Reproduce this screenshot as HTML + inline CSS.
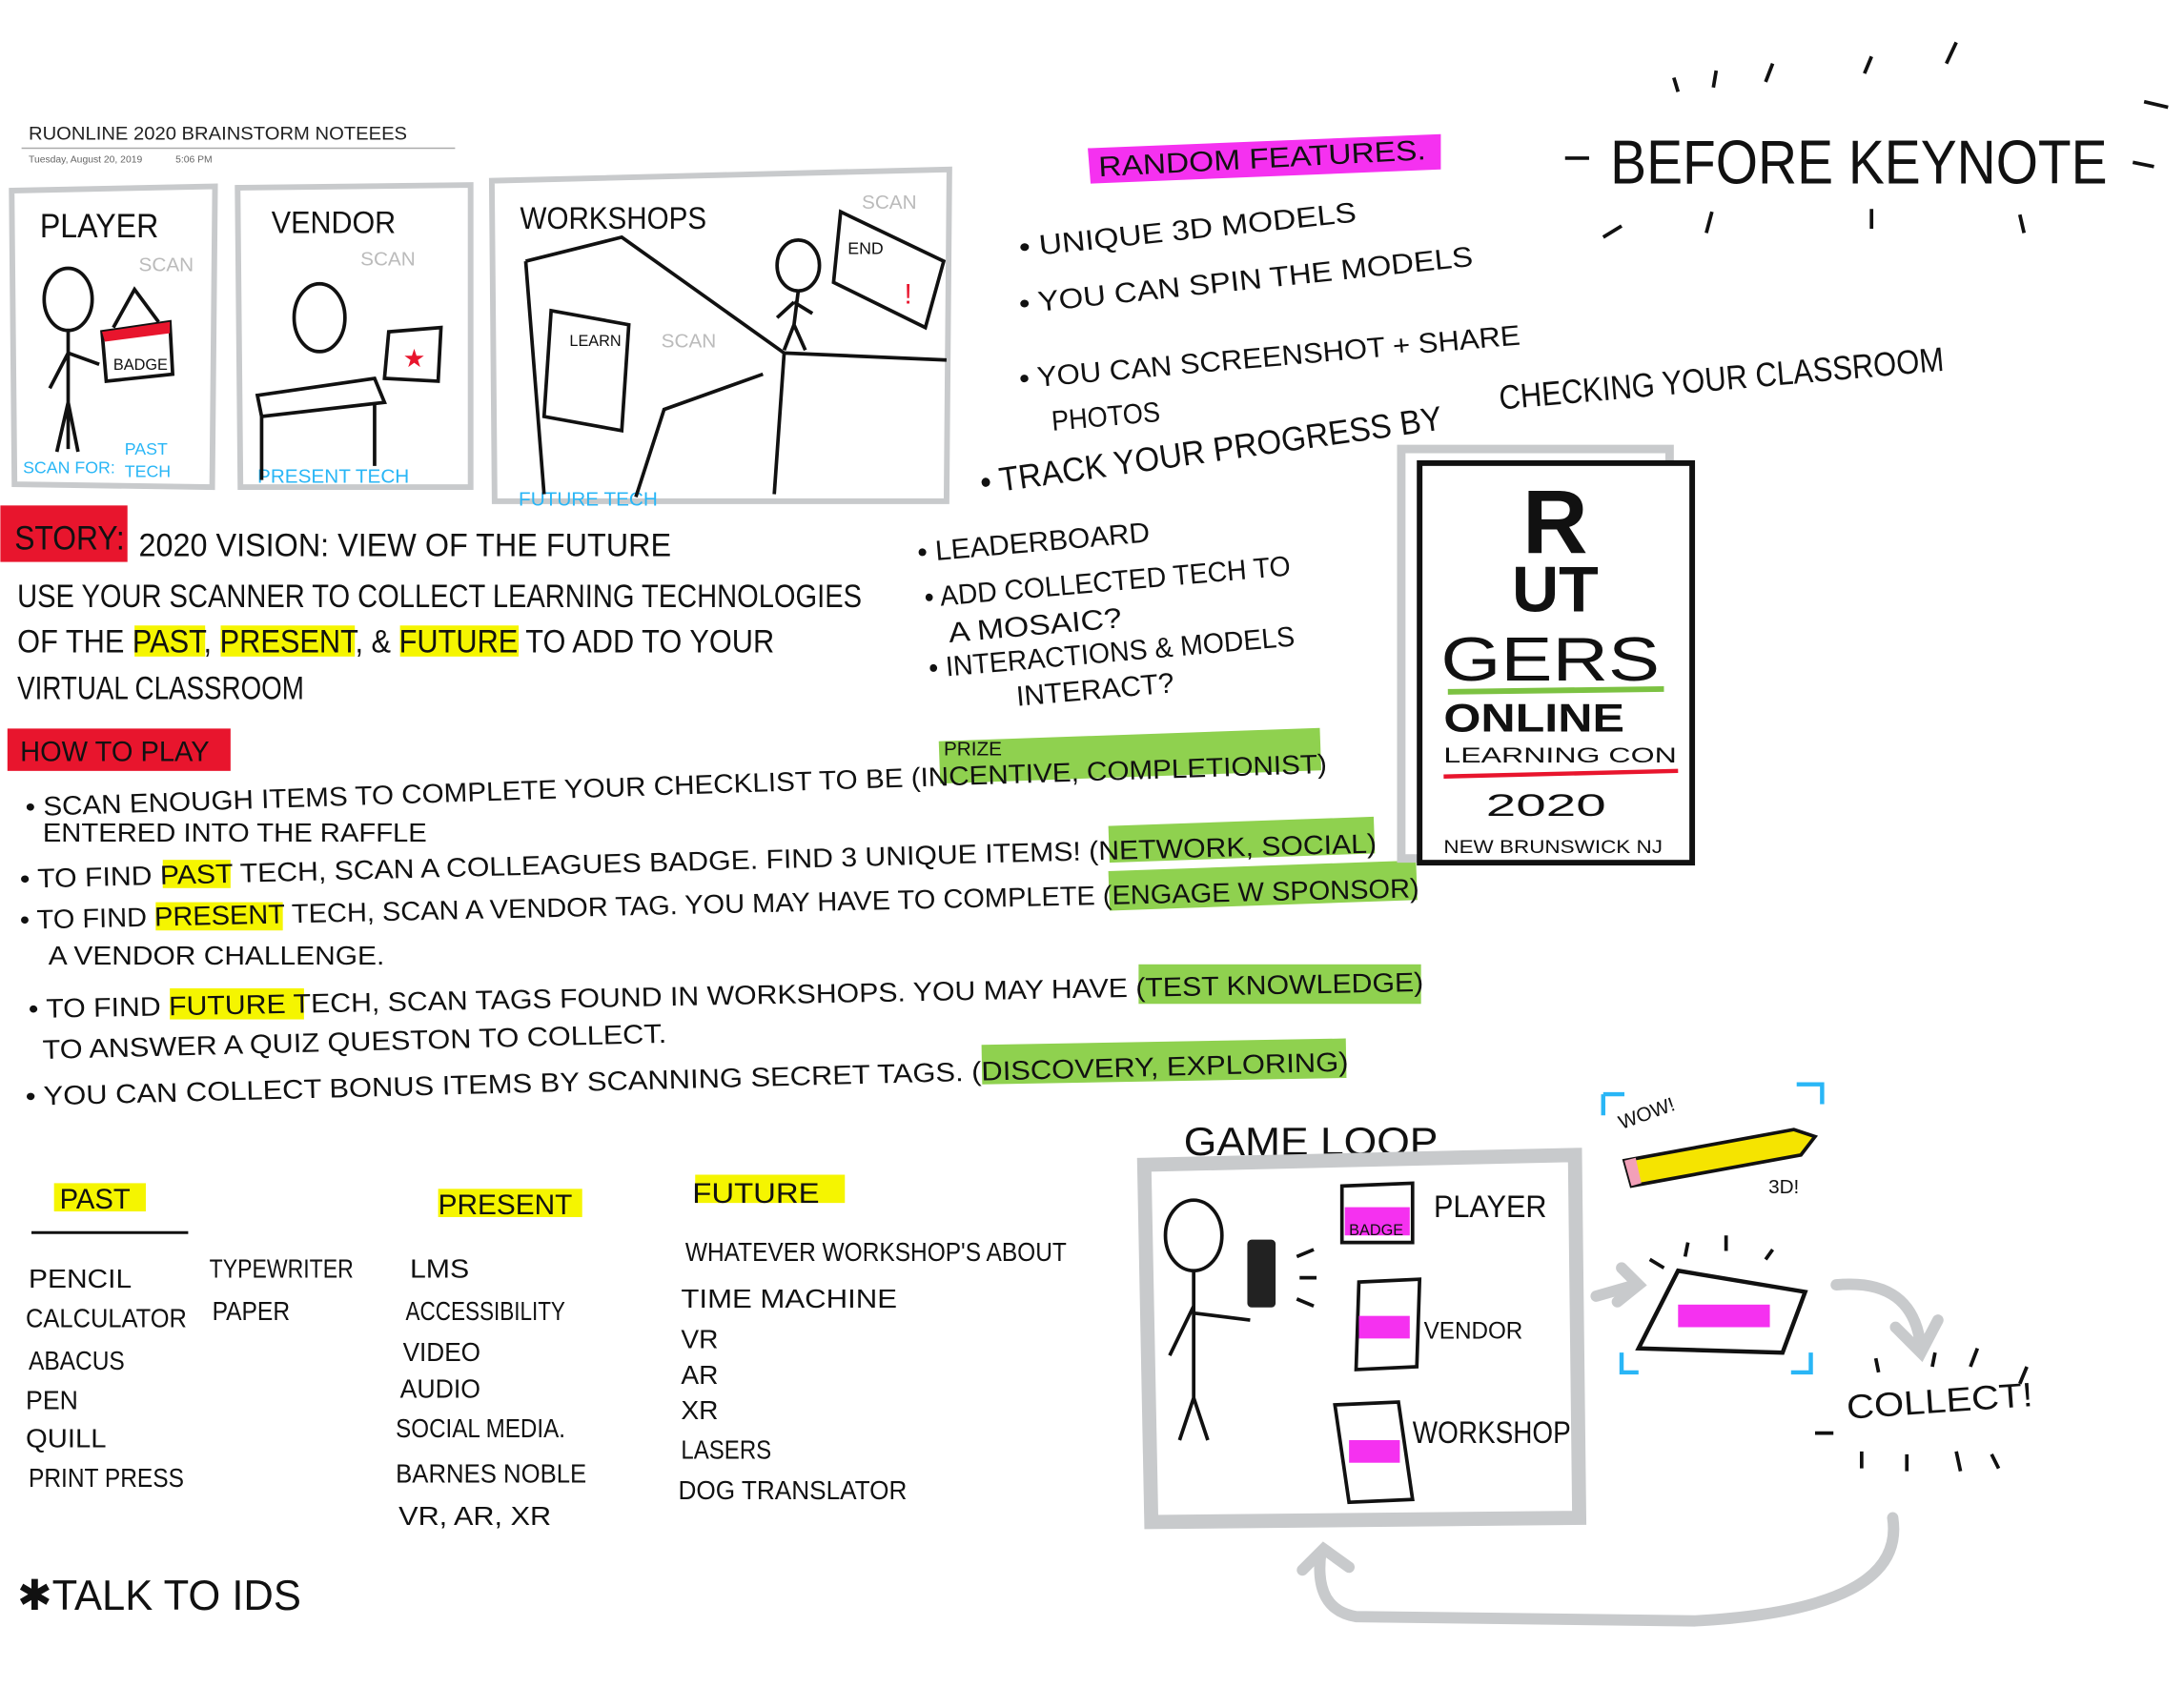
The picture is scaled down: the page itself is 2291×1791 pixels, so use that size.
<!DOCTYPE html>
<html><head><meta charset="utf-8"><style>
html,body{margin:0;padding:0;background:#fff;}
svg{display:block;}
text{font-family:"Liberation Sans",sans-serif;}
.h{fill:#111;}
</style></head><body>
<svg width="2291" height="1791" viewBox="0 0 1546 1209" xmlns="http://www.w3.org/2000/svg">
<rect width="1546" height="1209" fill="#fff"/>
<text x="20" y="99" font-size="13" fill="#222" textLength="268" lengthAdjust="spacingAndGlyphs">RUONLINE 2020 BRAINSTORM NOTEEES</text>
<line x1="15" y1="105" x2="322" y2="105" stroke="#aaa" stroke-width="1"/>
<text x="20" y="115" font-size="7" fill="#666">Tuesday, August 20, 2019</text>
<text x="124" y="115" font-size="7" fill="#666">5:06 PM</text>

<g fill="none" stroke="#c8cacc" stroke-width="4">
<path d="M8 135 L152 132 L150 345 L10 343 Z"/>
<path d="M168 133 L333 131 L333 345 L170 345 Z"/>
<path d="M348 128 L672 120 L670 355 L350 355 Z"/>
</g>
<text x="28" y="168" class="h" font-size="24" textLength="84" lengthAdjust="spacingAndGlyphs">PLAYER</text>
<text x="192" y="165" class="h" font-size="22" textLength="88" lengthAdjust="spacingAndGlyphs">VENDOR</text>
<text x="368" y="162" class="h" font-size="22" textLength="132" lengthAdjust="spacingAndGlyphs">WORKSHOPS</text>
<text x="98" y="192" font-size="14" fill="#bbb">SCAN</text>
<text x="255" y="188" font-size="14" fill="#bbb">SCAN</text>
<text x="610" y="148" font-size="14" fill="#bbb">SCAN</text>
<text x="468" y="246" font-size="14" fill="#bbb">SCAN</text>
<text x="16" y="335" font-size="12" fill="#29b6f6">SCAN FOR:</text>
<text x="88" y="322" font-size="12" fill="#29b6f6">PAST</text>
<text x="88" y="338" font-size="12" fill="#29b6f6">TECH</text>
<text x="182" y="342" font-size="14" fill="#29b6f6">PRESENT TECH</text>
<text x="367" y="358" font-size="14" fill="#29b6f6">FUTURE TECH</text>
<g fill="none" stroke="#111" stroke-width="2.5">
<ellipse cx="48" cy="212" rx="17" ry="22"/><path d="M48 234 L48 318 M48 250 L35 275 M48 250 L70 258 M48 285 L40 320 M48 285 L55 320"/>
<path d="M72 235 L120 228 L122 265 L75 270 Z"/><path d="M80 232 L95 205 L112 228"/>
<ellipse cx="226" cy="225" rx="18" ry="24"/>
<path d="M182 280 L265 268 L272 285 L185 295 Z M185 295 L185 340 M265 285 L265 330"/>
<path d="M275 235 L312 232 L310 270 L272 268 Z"/>
<ellipse cx="565" cy="188" rx="15" ry="18"/><path d="M565 206 L562 230 L555 248 M562 230 L570 248 M562 214 L550 225 M562 214 L575 222"/>
<path d="M595 150 L668 185 L655 232 L590 200 Z"/>
<path d="M372 185 L440 168 L555 250 L548 350 M372 185 L385 350 M555 250 L670 255 M450 352 L470 290 L540 265"/>
<path d="M390 220 L445 230 L440 305 L385 295 Z"/>
</g>
<path d="M72 235 L120 228 L120 236 L74 242 Z" fill="#e8152d"/>
<text x="80" y="262" font-size="11" fill="#111">BADGE</text>
<text x="403" y="245" font-size="11" fill="#111">LEARN</text>
<text x="600" y="180" font-size="12" fill="#111">END</text>
<text x="640" y="215" font-size="20" fill="#e8152d">!</text>
<text x="285" y="260" font-size="18" fill="#e8152d">★</text>

<rect x="0" y="358" width="90" height="40" fill="#e8152d"/>
<text x="10" y="389" class="h" font-size="24" textLength="78" lengthAdjust="spacingAndGlyphs">STORY:</text>
<text x="98" y="394" class="h" font-size="23" textLength="377" lengthAdjust="spacingAndGlyphs">2020 VISION: VIEW OF THE FUTURE</text>
<rect x="95" y="443" width="50" height="22" fill="#f5f500"/>
<rect x="156" y="443" width="95" height="22" fill="#f5f500"/>
<rect x="283" y="443" width="84" height="22" fill="#f5f500"/>
<text x="12" y="430" class="h" font-size="23" textLength="598" lengthAdjust="spacingAndGlyphs">USE YOUR SCANNER TO COLLECT LEARNING TECHNOLOGIES</text>
<text x="12" y="462" class="h" font-size="23" textLength="536" lengthAdjust="spacingAndGlyphs">OF THE PAST, PRESENT, &amp; FUTURE TO ADD TO YOUR</text>
<text x="12" y="495" class="h" font-size="23" textLength="203" lengthAdjust="spacingAndGlyphs">VIRTUAL CLASSROOM</text>

<rect x="5" y="516" width="158" height="30" fill="#e8152d"/>
<text x="14" y="539" class="h" font-size="20" textLength="134" lengthAdjust="spacingAndGlyphs">HOW TO PLAY</text>
<g fill="#8fd14f">
<rect x="665" y="525" width="270" height="30" transform="rotate(-2 665 540)"/>
<rect x="785" y="585" width="188" height="26" transform="rotate(-2 785 598)"/>
<rect x="785" y="617" width="218" height="28" transform="rotate(-2 785 630)"/>
<rect x="806" y="683" width="200" height="28"/>
<rect x="695" y="740" width="258" height="28" transform="rotate(-1 695 754)"/>
</g>
<g fill="#f5f500">
<rect x="115" y="609" width="48" height="20"/>
<rect x="110" y="639" width="90" height="20"/>
<rect x="120" y="700" width="95" height="22"/>
</g>
<g class="h" font-size="19">
<text x="18" y="578" textLength="922" lengthAdjust="spacingAndGlyphs" transform="rotate(-1.9 18 578)">• SCAN ENOUGH ITEMS TO COMPLETE YOUR CHECKLIST TO BE (INCENTIVE, COMPLETIONIST)</text>
<text x="668" y="535" font-size="14">PRIZE</text>
<text x="30" y="596" textLength="272" lengthAdjust="spacingAndGlyphs">ENTERED INTO THE RAFFLE</text>
<text x="14" y="629" textLength="961" lengthAdjust="spacingAndGlyphs" transform="rotate(-1.5 14 629)">• TO FIND PAST TECH, SCAN A COLLEAGUES BADGE. FIND 3 UNIQUE ITEMS! (NETWORK, SOCIAL)</text>
<text x="14" y="658" textLength="991" lengthAdjust="spacingAndGlyphs" transform="rotate(-1.3 14 658)">• TO FIND PRESENT TECH, SCAN A VENDOR TAG. YOU MAY HAVE TO COMPLETE (ENGAGE W SPONSOR)</text>
<text x="34" y="683" textLength="238" lengthAdjust="spacingAndGlyphs">A VENDOR CHALLENGE.</text>
<text x="20" y="721" textLength="988" lengthAdjust="spacingAndGlyphs" transform="rotate(-1.1 20 721)">• TO FIND FUTURE TECH, SCAN TAGS FOUND IN WORKSHOPS. YOU MAY HAVE (TEST KNOWLEDGE)</text>
<text x="30" y="750" textLength="442" lengthAdjust="spacingAndGlyphs" transform="rotate(-1.5 30 750)">TO ANSWER A QUIZ QUESTON TO COLLECT.</text>
<text x="18" y="783" textLength="937" lengthAdjust="spacingAndGlyphs" transform="rotate(-1.5 18 783)">• YOU CAN COLLECT BONUS ITEMS BY SCANNING SECRET TAGS. (DISCOVERY, EXPLORING)</text>
</g>

<path d="M770 105 L1020 95 L1020 120 L772 130 Z" fill="#f531f0"/>
<g class="h" font-size="20">
<text x="778" y="125" transform="rotate(-3 778 125)" textLength="232" lengthAdjust="spacingAndGlyphs">RANDOM FEATURES.</text>
<text x="722" y="182" transform="rotate(-6 722 182)" textLength="240" lengthAdjust="spacingAndGlyphs">• UNIQUE 3D MODELS</text>
<text x="722" y="222" transform="rotate(-6 722 222)" textLength="323" lengthAdjust="spacingAndGlyphs">• YOU CAN SPIN THE MODELS</text>
<text x="722" y="275" transform="rotate(-5 722 275)" textLength="356" lengthAdjust="spacingAndGlyphs">• YOU CAN SCREENSHOT + SHARE</text>
<text x="745" y="305" transform="rotate(-5 745 305)" textLength="77" lengthAdjust="spacingAndGlyphs">PHOTOS</text>
<text x="695" y="350" font-size="24" transform="rotate(-8 695 350)" textLength="330" lengthAdjust="spacingAndGlyphs">• TRACK YOUR PROGRESS BY</text>
<text x="1062" y="290" font-size="24" transform="rotate(-5 1062 290)" textLength="316" lengthAdjust="spacingAndGlyphs">CHECKING YOUR CLASSROOM</text>
<text x="650" y="398" transform="rotate(-5 650 398)" textLength="165" lengthAdjust="spacingAndGlyphs">• LEADERBOARD</text>
<text x="655" y="430" transform="rotate(-5 655 430)" textLength="260" lengthAdjust="spacingAndGlyphs">• ADD COLLECTED TECH TO</text>
<text x="672" y="455" transform="rotate(-5 672 455)" textLength="123" lengthAdjust="spacingAndGlyphs">A MOSAIC?</text>
<text x="658" y="480" transform="rotate(-5 658 480)" textLength="260" lengthAdjust="spacingAndGlyphs">• INTERACTIONS &amp; MODELS</text>
<text x="720" y="500" transform="rotate(-5 720 500)" textLength="112" lengthAdjust="spacingAndGlyphs">INTERACT?</text>
</g>
<text x="1140" y="130" class="h" font-size="44" textLength="352" lengthAdjust="spacingAndGlyphs">BEFORE KEYNOTE</text>
<g stroke="#111" stroke-width="2.5" fill="none">
<path d="M1185 55 L1188 65 M1215 50 L1213 62 M1255 45 L1250 58 M1325 40 L1320 52 M1385 30 L1378 45 M1108 112 L1125 112 M1518 72 L1535 76 M1510 115 L1525 118 M1148 160 L1135 168 M1212 150 L1208 165 M1325 148 L1325 162 M1430 152 L1433 165"/>
</g>

<rect x="992" y="318" width="190" height="290" fill="none" stroke="#c8cacc" stroke-width="6"/>
<rect x="1005" y="328" width="193" height="283" fill="#fff" stroke="#111" stroke-width="4"/>
<text x="1101" y="392" text-anchor="middle" font-size="64" font-weight="bold" fill="#111">R</text>
<text x="1101" y="433" text-anchor="middle" font-size="46" font-weight="bold" fill="#111">UT</text>
<text x="1020" y="482" font-size="44" fill="#111" textLength="155" lengthAdjust="spacingAndGlyphs">GERS</text>
<line x1="1025" y1="490" x2="1178" y2="488" stroke="#7cc242" stroke-width="4"/>
<text x="1022" y="518" font-size="28" font-weight="bold" fill="#111" textLength="128" lengthAdjust="spacingAndGlyphs">ONLINE</text>
<text x="1022" y="540" font-size="15" fill="#111" textLength="165" lengthAdjust="spacingAndGlyphs">LEARNING CON</text>
<line x1="1022" y1="550" x2="1188" y2="546" stroke="#e8152d" stroke-width="3"/>
<text x="1052" y="578" font-size="22" fill="#111" textLength="85" lengthAdjust="spacingAndGlyphs">2020</text>
<text x="1022" y="604" font-size="13" fill="#111" textLength="155" lengthAdjust="spacingAndGlyphs">NEW BRUNSWICK NJ</text>

<rect x="38" y="838" width="65" height="20" fill="#f5f500"/>
<rect x="310" y="842" width="102" height="20" fill="#f5f500"/>
<rect x="492" y="832" width="106" height="20" fill="#f5f500"/>
<text x="42" y="856" class="h" font-size="20" textLength="50" lengthAdjust="spacingAndGlyphs">PAST</text>
<text x="310" y="860" class="h" font-size="20" textLength="95" lengthAdjust="spacingAndGlyphs">PRESENT</text>
<text x="490" y="852" class="h" font-size="20" textLength="90" lengthAdjust="spacingAndGlyphs">FUTURE</text>
<line x1="22" y1="873" x2="133" y2="873" stroke="#111" stroke-width="2"/>
<g class="h" font-size="19">
<text x="20" y="912" textLength="73" lengthAdjust="spacingAndGlyphs">PENCIL</text><text x="148" y="905" textLength="102" lengthAdjust="spacingAndGlyphs">TYPEWRITER</text>
<text x="18" y="940" textLength="114" lengthAdjust="spacingAndGlyphs">CALCULATOR</text><text x="150" y="935" textLength="55" lengthAdjust="spacingAndGlyphs">PAPER</text>
<text x="20" y="970" textLength="68" lengthAdjust="spacingAndGlyphs">ABACUS</text><text x="18" y="998" textLength="37" lengthAdjust="spacingAndGlyphs">PEN</text>
<text x="18" y="1025" textLength="57" lengthAdjust="spacingAndGlyphs">QUILL</text><text x="20" y="1053" textLength="110" lengthAdjust="spacingAndGlyphs">PRINT PRESS</text>
<text x="290" y="905" textLength="42" lengthAdjust="spacingAndGlyphs">LMS</text><text x="287" y="935" textLength="113" lengthAdjust="spacingAndGlyphs">ACCESSIBILITY</text>
<text x="285" y="964" textLength="55" lengthAdjust="spacingAndGlyphs">VIDEO</text><text x="283" y="990" textLength="57" lengthAdjust="spacingAndGlyphs">AUDIO</text>
<text x="280" y="1018" textLength="120" lengthAdjust="spacingAndGlyphs">SOCIAL MEDIA.</text><text x="280" y="1050" textLength="135" lengthAdjust="spacingAndGlyphs">BARNES NOBLE</text>
<text x="282" y="1080" textLength="108" lengthAdjust="spacingAndGlyphs">VR, AR, XR</text>
<text x="485" y="893" textLength="270" lengthAdjust="spacingAndGlyphs">WHATEVER WORKSHOP'S ABOUT</text>
<text x="482" y="926" textLength="153" lengthAdjust="spacingAndGlyphs">TIME MACHINE</text>
<text x="482" y="955">VR</text><text x="482" y="980">AR</text><text x="482" y="1005">XR</text>
<text x="482" y="1033" textLength="64" lengthAdjust="spacingAndGlyphs">LASERS</text><text x="480" y="1062" textLength="162" lengthAdjust="spacingAndGlyphs">DOG TRANSLATOR</text>
</g>
<text x="12" y="1140" class="h" font-size="30" textLength="201" lengthAdjust="spacingAndGlyphs">✱TALK TO IDS</text>

<text x="838" y="818" class="h" font-size="28" textLength="180" lengthAdjust="spacingAndGlyphs">GAME LOOP</text>
<path d="M810 825 L1115 818 L1118 1075 L815 1078 Z" fill="none" stroke="#c8cacc" stroke-width="10"/>
<g fill="none" stroke="#111" stroke-width="2.5">
<ellipse cx="845" cy="875" rx="20" ry="25"/>
<path d="M845 900 L845 990 L835 1020 M845 990 L855 1020 M845 925 L828 960 M845 930 L885 935"/>
<path d="M950 840 L1000 838 L1000 880 L950 880 Z M962 908 L1005 906 L1003 968 L960 970 Z M945 995 L990 993 L1000 1062 L955 1064 Z"/>
<path d="M918 890 L930 885 M920 905 L932 905 M918 920 L930 925"/>
</g>
<rect x="883" y="878" width="20" height="48" rx="3" fill="#222"/>
<rect x="952" y="855" width="46" height="20" fill="#f531f0"/>
<rect x="962" y="932" width="36" height="16" fill="#f531f0"/>
<rect x="955" y="1020" width="36" height="16" fill="#f531f0"/>
<text x="955" y="875" font-size="11" fill="#111">BADGE</text>
<text x="1015" y="862" class="h" font-size="22" textLength="80" lengthAdjust="spacingAndGlyphs">PLAYER</text>
<text x="1008" y="948" class="h" font-size="17" textLength="70" lengthAdjust="spacingAndGlyphs">VENDOR</text>
<text x="1000" y="1022" class="h" font-size="22" textLength="112" lengthAdjust="spacingAndGlyphs">WORKSHOP</text>
<g fill="none" stroke="#c8cacc" stroke-width="8" stroke-linecap="round">
<path d="M1130 918 L1158 910 M1148 898 L1160 910 L1145 922"/>
<path d="M1300 910 Q1355 905 1360 955 M1342 940 L1360 958 L1372 935"/>
<path d="M1340 1075 Q1350 1140 1200 1148 L960 1145 Q930 1140 935 1100 M922 1112 L937 1097 L955 1110"/>
</g>
<g fill="none" stroke="#29b6f6" stroke-width="3">
<path d="M1135 775 L1135 790 M1135 775 L1150 775 M1272 768 L1290 768 L1290 782 M1148 958 L1148 972 L1160 972 M1282 958 L1282 972 L1268 972"/>
</g>
<path d="M1188 900 L1278 915 L1262 958 L1160 955 Z" fill="none" stroke="#111" stroke-width="3"/>
<rect x="1188" y="924" width="65" height="16" fill="#f531f0"/>
<path d="M1150 822 L1270 800 L1285 805 L1275 818 L1155 840 Z" fill="#f5e400" stroke="#111" stroke-width="2.5"/>
<path d="M1150 822 L1155 840 L1162 838 L1158 820 Z" fill="#f2a0b8"/>
<text x="1148" y="800" font-size="14" fill="#111" transform="rotate(-20 1148 800)">WOW!</text>
<text x="1252" y="845" font-size="14" fill="#111">3D!</text>
<text x="1308" y="1005" class="h" font-size="24" transform="rotate(-4 1308 1005)" textLength="132" lengthAdjust="spacingAndGlyphs">COLLECT!</text>
<g stroke="#111" stroke-width="2.5">
<path d="M1195 880 L1193 890 M1222 875 L1222 886 M1255 885 L1250 892 M1168 892 L1178 898 M1328 962 L1330 972 M1370 958 L1368 968 M1400 955 L1395 968 M1435 968 L1430 980 M1285 1015 L1298 1015 M1318 1028 L1318 1040 M1350 1030 L1350 1042 M1385 1028 L1388 1042 M1410 1030 L1415 1040"/>
</g>
</svg>
</body></html>
